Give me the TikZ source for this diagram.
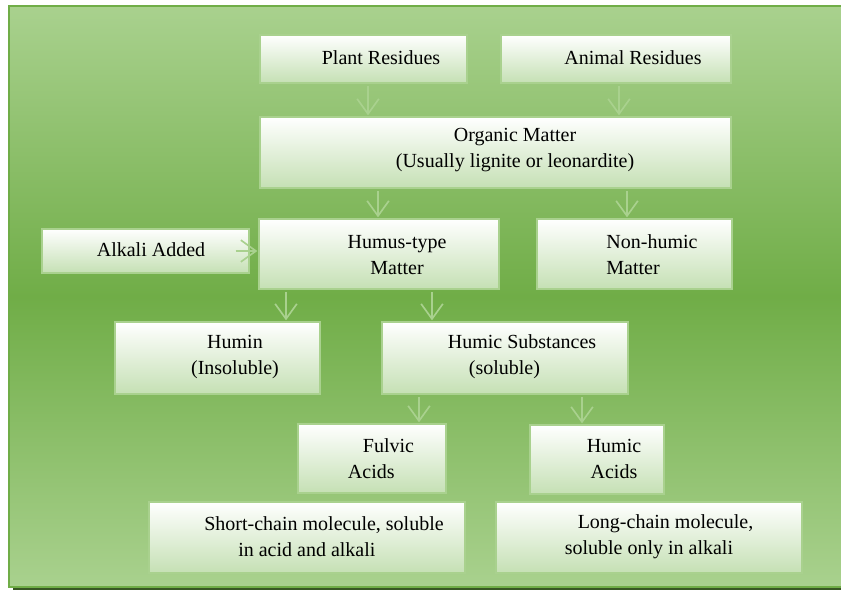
\documentclass[tikz,border=0pt]{standalone}
\usepackage{fontspec}
\setmainfont{Liberation Serif}
\usetikzlibrary{arrows.meta}
\definecolor{bglight}{HTML}{A9D18E}
\definecolor{bgdark}{HTML}{70AD47}
\definecolor{framegreen}{HTML}{70AD47}
\definecolor{shadowgreen}{HTML}{385723}
\definecolor{boxline}{HTML}{A9D18E}
\definecolor{boxbottom}{HTML}{C5E0B4}
\definecolor{arrowgreen}{HTML}{A9D18E}
\begin{document}
\begin{tikzpicture}[x=0.6pt, y=-0.6pt,
  box/.style={draw=boxline, line width=1pt, top color=white, bottom color=boxbottom, inner sep=0pt, outer sep=0pt},
  txt/.style={font=\fontsize{12}{15.6}\selectfont, inner sep=0pt},
  arr/.style={draw=arrowgreen, line width=1pt, shorten <=2pt, shorten >=1pt, -{Straight Barb[length=9pt,width=13pt]}}]

 \useasboundingbox (0,0) rectangle (841,590);
 % Background panel
 \fill[shadowgreen] (13,10) rectangle (841,590);
 \path[draw=framegreen, line width=1.2pt, top color=bglight, bottom color=bglight, middle color=bgdark] (9,6) rectangle (842,587);

 % Boxes
 \node[box, minimum width=124.2pt, minimum height=28.8pt] (plant) at (363.5,59) {};
 \node[box, minimum width=138pt, minimum height=28.8pt] (animal) at (616,59) {};
 \node[box, minimum width=282.6pt, minimum height=42.6pt] (organic) at (495.5,152.5) {};
 \node[box, minimum width=144pt, minimum height=42pt] (humus) at (379,254) {};
 \node[box, minimum width=117pt, minimum height=42pt] (nonhumic) at (634.5,254) {};
 \node[box, minimum width=124.2pt, minimum height=26.4pt] (alkali) at (145.5,251) {};
 \node[box, minimum width=123pt, minimum height=43.2pt] (humin) at (217.5,358) {};
 \node[box, minimum width=147.6pt, minimum height=43.2pt] (humicsub) at (505,358) {};
 \node[box, minimum width=88.8pt, minimum height=41.4pt] (fulvic) at (372,458.5) {};
 \node[box, minimum width=80.4pt, minimum height=41.4pt] (humicacid) at (597,459.5) {};
 \node[box, minimum width=189.6pt, minimum height=42.6pt] (shortchain) at (307,537.5) {};
 \node[box, minimum width=183.6pt, minimum height=42.6pt] (longchain) at (649,537.5) {};

 % Texts
 \node[txt] (plant-t) at (381,58) {Plant Residues};
 \node[txt] (animal-t) at (633,58) {Animal Residues};
 \node[txt, align=center] (organic-t) at (515,150) {Organic Matter\\(Usually lignite or leonardite)};
 \node[txt, align=center] (humus-t) at (397,255) {Humus-type\\Matter};
 \node[txt, align=left] (nonhumic-t) at (652,255) {Non-humic\\Matter};
 \node[txt] (alkali-t) at (151,250) {Alkali Added};
 \node[txt, align=center] (humin-t) at (235,357) {Humin\\(Insoluble)};
 \node[txt, align=left] (humicsub-t) at (522,357) {Humic Substances\\\hspace*{12.6pt}(soluble)};
 \node[txt, align=left] (fulvic-t) at (381,459) {\hspace*{9pt}Fulvic\\Acids};
 \node[txt, align=center] (humicacid-t) at (614,459) {Humic\\Acids};
 \node[txt, align=left] (shortchain-t) at (324,537) {Short-chain molecule, soluble\\\hspace*{20.4pt}in acid and alkali};
 \node[txt, align=left] (longchain-t) at (659,537) {\hspace*{7.8pt}Long-chain molecule,\\soluble only in alkali};

 % Connectors
 \draw[arr] (plant.south -| 368,0) -- (organic.north -| 368,0);
 \draw[arr] (animal.south -| 619,0) -- (organic.north -| 619,0);
 \draw[arr] (organic.south -| 378,0) -- (humus.north -| 378,0);
 \draw[arr] (organic.south -| 627,0) -- (nonhumic.north -| 627,0);
 \draw[arr] ([xshift=-10pt]alkali.east) -- (humus.west |- alkali.east);
 \draw[arr] (humus.south -| 286,0) -- (humin.north -| 286,0);
 \draw[arr] (humus.south -| 432,0) -- (humicsub.north -| 432,0);
 \draw[arr] (humicsub.south -| 419,0) -- (fulvic.north -| 419,0);
 \draw[arr] (humicsub.south -| 582,0) -- (humicacid.north -| 582,0);

\end{tikzpicture}
\end{document}
